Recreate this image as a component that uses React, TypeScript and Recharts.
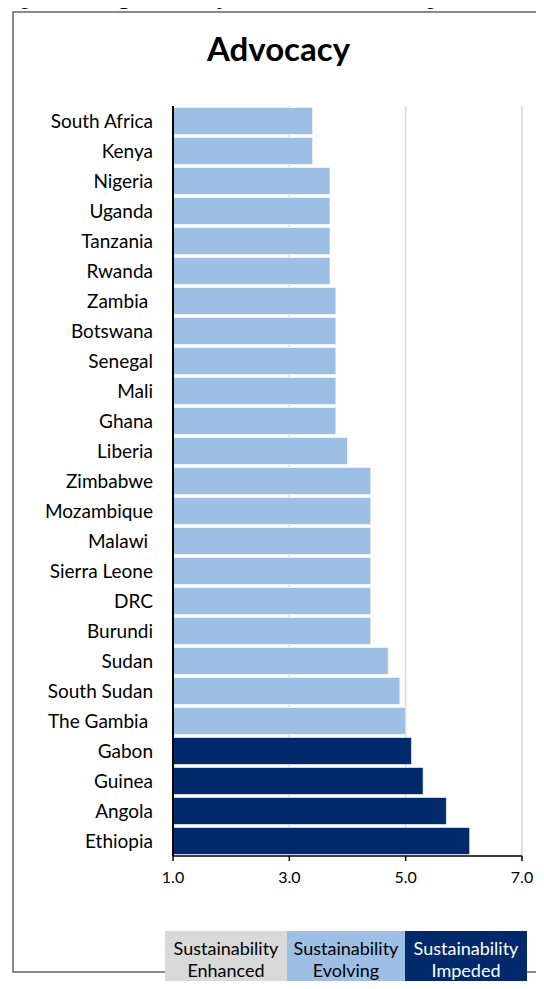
import React from 'react';
import { BarChart, Bar, XAxis, YAxis, CartesianGrid, Cell } from 'recharts';

const countries = [
  'South Africa', 'Kenya', 'Nigeria', 'Uganda', 'Tanzania', 'Rwanda', 'Zambia\u00A0',
  'Botswana', 'Senegal', 'Mali', 'Ghana', 'Liberia', 'Zimbabwe', 'Mozambique',
  'Malawi\u00A0', 'Sierra Leone', 'DRC', 'Burundi', 'Sudan', 'South Sudan',
  'The Gambia\u00A0', 'Gabon', 'Guinea', 'Angola', 'Ethiopia',
];
const scores = [
  3.4, 3.4, 3.7, 3.7, 3.7, 3.7, 3.8, 3.8, 3.8, 3.8, 3.8, 4.0, 4.4, 4.4,
  4.4, 4.4, 4.4, 4.4, 4.7, 4.9, 5.0, 5.1, 5.3, 5.7, 6.1,
];
// tier for each country: E = enhanced, V = evolving, I = impeded
const tiers = [
  'V', 'V', 'V', 'V', 'V', 'V', 'V', 'V', 'V', 'V', 'V', 'V', 'V', 'V',
  'V', 'V', 'V', 'V', 'V', 'V', 'V', 'I', 'I', 'I', 'I',
];
const xTicks = [1, 3, 5, 7];
const legendLabels = [
  ['Sustainability', 'Enhanced'],
  ['Sustainability', 'Evolving'],
  ['Sustainability', 'Impeded'],
];

const tierColors: Record<string, string> = { E: '#D9D9D9', V: '#9DBFE4', I: '#002A6C' };
const legendColors = ['#D9D9D9', '#9DBFE4', '#002A6C'];
const legendText = ['#000', '#000', '#fff'];

const data = countries.map((name, i) => ({ name, score: scores[i], tier: tiers[i] }));

const font = 'Lato, "Open Sans", sans-serif';

export default function App() {
  return (
    <div
      style={{
        position: 'relative',
        width: 544,
        height: 989,
        margin: -8,
        overflow: 'hidden',
        background: '#fff',
        fontFamily: font,
      }}
    >
      <div
        style={{
          position: 'absolute',
          left: -6,
          top: -17,
          fontFamily: '"Liberation Serif", serif',
          fontSize: 26,
          lineHeight: '26px',
          whiteSpace: 'nowrap',
          color: '#000',
        }}
      >
        improved significantly in 2012. For example
      </div>
      <div
        style={{
          position: 'absolute',
          left: 12,
          top: 11,
          width: 620,
          height: 962,
          boxSizing: 'border-box',
          border: '2px solid #8a8a8a',
        }}
      />
      <div
        style={{
          position: 'absolute',
          left: 0,
          top: 30,
          width: 557,
          textAlign: 'center',
          fontWeight: 700,
          fontSize: 33,
          lineHeight: '36px',
          color: '#000',
        }}
      >
        Advocacy
      </div>
      <div style={{ position: 'absolute', left: 0, top: 0 }}>
        <BarChart
          width={544}
          height={900}
          data={data}
          layout="vertical"
          margin={{ top: 106, right: 22, left: 0, bottom: 14 }}
          barCategoryGap={1.5}
        >
          <CartesianGrid horizontal={false} stroke="#D9D9D9" strokeWidth={1.5} />
          <XAxis
            type="number"
            domain={[1, 7]}
            ticks={xTicks}
            allowDataOverflow
            height={30}
            tickFormatter={(v: number) => v.toFixed(1)}
            axisLine={{ stroke: '#000', strokeWidth: 1.5 }}
            tickLine={{ stroke: '#000', strokeWidth: 1.5 }}
            tickSize={5}
            tickMargin={11}
            tick={{ fontSize: 16, fill: '#000', fontFamily: font }}
          />
          <YAxis
            type="category"
            dataKey="name"
            width={173}
            axisLine={{ stroke: '#000', strokeWidth: 2 }}
            tickLine={false}
            tickSize={0}
            tickMargin={20}
            interval={0}
            tick={{ fontSize: 19, fill: '#000', fontFamily: font }}
          />
          <Bar dataKey="score" isAnimationActive={false} stroke="#ffffff" strokeWidth={0.6}>
            {data.map((d) => (
              <Cell key={d.name} fill={tierColors[d.tier]} />
            ))}
          </Bar>
        </BarChart>
      </div>
      <div style={{ position: 'absolute', left: 165, top: 931, display: 'flex' }}>
        {legendLabels.map((lines, i) => (
          <div
            key={lines[1]}
            style={{
              width: [122, 118, 122][i],
              height: 57,
              boxSizing: 'border-box',
              background: legendColors[i],
              color: legendText[i],
              fontSize: 18,
              lineHeight: '22px',
              textAlign: 'center',
              paddingTop: 6,
            }}
          >
            <div>{lines[0]}</div>
            <div>{lines[1]}</div>
          </div>
        ))}
      </div>
    </div>
  );
}
